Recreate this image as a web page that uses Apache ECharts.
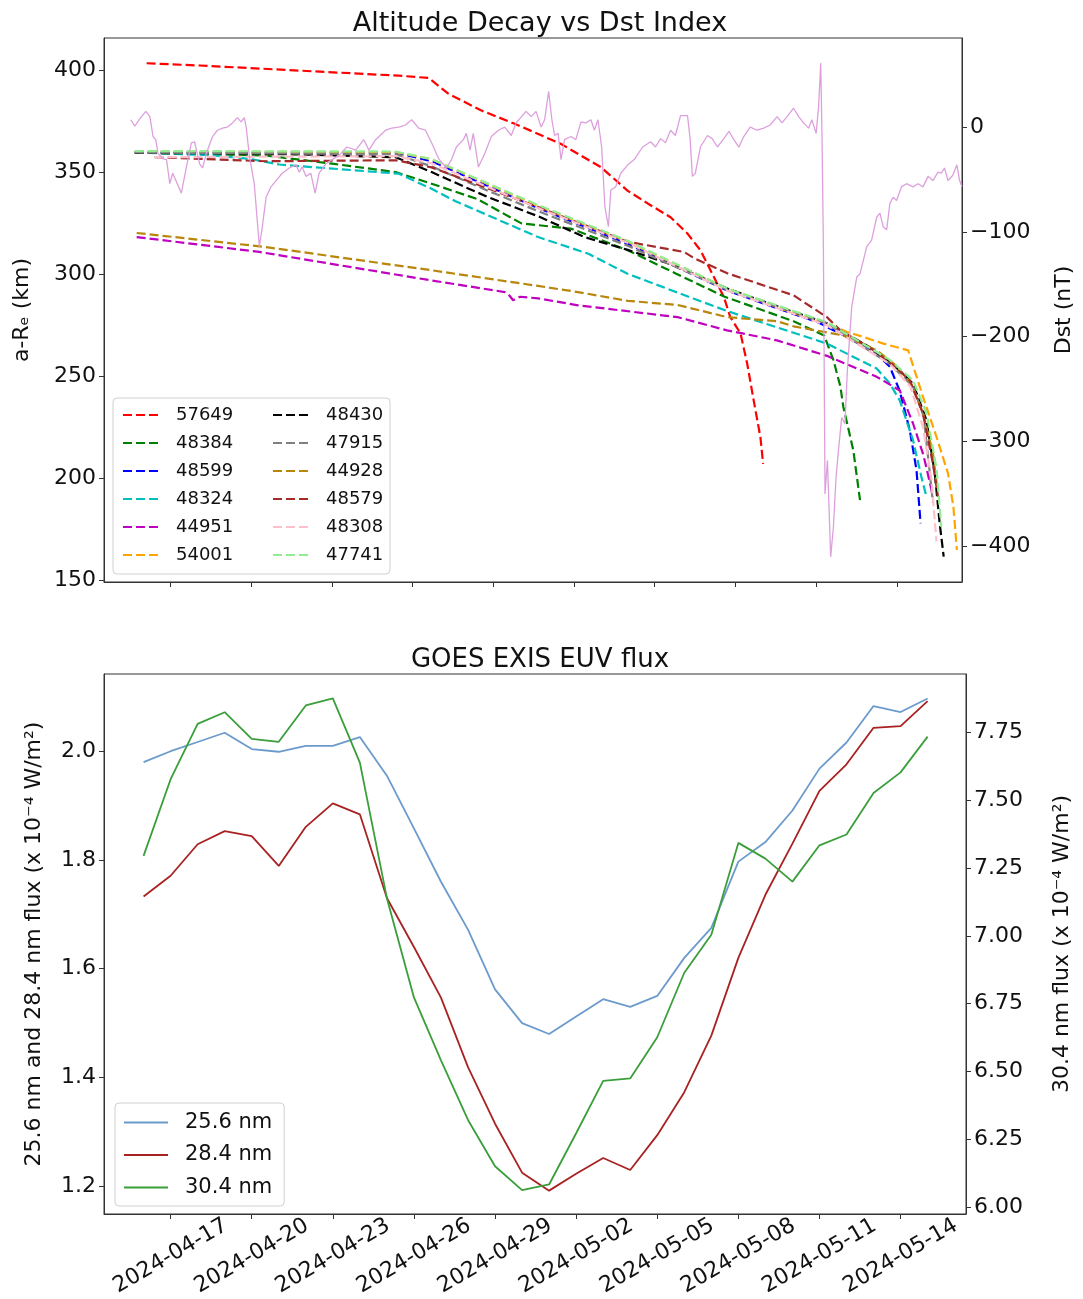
<!DOCTYPE html>
<html><head><meta charset="utf-8">
<script src="https://cdn.jsdelivr.net/npm/echarts@6/dist/echarts.min.js"></script>
<style>html,body{margin:0;padding:0;background:#fff}#c{width:1083px;height:1299px}</style>
</head><body><div id="c"></div>
<script>
// ---------- DATA ----------
const BASE_DATE = '2024-04-17'; // day offsets below are days from this date (UTC)
const xTickLabels = ['2024-04-17','2024-04-20','2024-04-23','2024-04-26','2024-04-29','2024-05-02','2024-05-05','2024-05-08','2024-05-11','2024-05-14'];
const altTicks = [150,200,250,300,350,400];
const dstTicks = [0,-100,-200,-300,-400];
const euvLeftTicks = [1.2,1.4,1.6,1.8,2.0];
const euvRightTicks = [6.00,6.25,6.50,6.75,7.00,7.25,7.50,7.75];

// altitude (a - Re, km) per object: [day offset, km]
const alt57649 = [[-0.88,403.6],[1.09,402.5],[4.79,400],[8.49,397.5],[9.6,396.4],[10.34,388.6],[11.56,380.4],[12.8,373.9],[14.52,364],[16.0,352.6],[17.0,341],[17.74,334.8],[18.59,328],[19.22,320],[19.7,311.8],[20.2,298.7],[20.57,288.9],[20.81,279],[21.19,271],[21.44,256],[21.68,238],[21.93,220],[22.03,207]];
const alt48384 = [[-1.32,359.8],[3.55,358.3],[6.02,354.3],[8.37,350.2],[9.71,344.5],[11.4,337],[13.05,325],[14.9,322.4],[17.0,311.8],[18.8,300.3],[20.6,289],[23.16,277],[24.3,270],[24.64,258],[24.9,245],[25.01,235],[25.38,213.7],[25.63,189.2]];
const alt48599 = [[-1.32,360],[8.37,359.8],[9.71,355.5],[13.67,332.5],[17,315],[20.7,292],[23.16,280.5],[24.03,276.7],[25.13,269.3],[26.25,261.1],[26.74,254.6],[27.1,243],[27.48,223.5],[27.73,203.9],[27.88,177.8]];
const alt48324 = [[-1.32,359.8],[1.5,358.5],[2.94,356.7],[4.05,353.9],[8.49,349.4],[9.71,342],[10.58,336],[13.67,318.3],[15.52,310.2],[16.99,300.3],[19.46,288],[20.69,282],[22.54,274],[24.4,266],[26.25,253.8],[26.74,246.4],[27.11,238],[27.6,218.6],[27.91,200.6],[28.1,190.8]];
const alt44951 = [[-1.25,318.3],[3.31,311],[9.71,297],[12.43,291.3],[12.6,289.6],[12.74,287.3],[13.0,289],[13.67,288.2],[15.15,284.8],[18.85,279],[20.69,272.5],[22.54,267.6],[24.4,260],[26.25,249.7],[27.11,243],[27.6,226.8],[27.97,212],[28.1,205],[28.34,191]];
const alt54001 = [[-1.32,360.2],[8.37,360],[9.71,356.5],[13.67,333.5],[17,316],[20.7,293],[23.16,281],[24.4,276],[25.13,271.8],[25.75,269.3],[26.5,266],[27.42,262.7],[27.97,239.9],[28.47,220.3],[28.9,202.3],[29.1,186],[29.23,164.7]];
const alt48430 = [[-1.32,359.6],[2,359.4],[5,358.8],[8.37,357.5],[9.71,350.2],[10.96,342.8],[11.81,337.9],[13.67,328.5],[15.39,318.3],[17.0,312],[18.6,305],[20.7,293],[23.16,281.5],[24.4,276],[25.9,265],[26.74,257],[27.6,246.4],[28.1,228.4],[28.41,202.3],[28.59,177.8],[28.74,161.4]];
const alt47915 = [[-1.32,359.8],[8.37,359],[9.71,353],[11.81,341],[13.67,331],[17,314],[20.7,292.5],[24.4,276],[26.74,256],[27.6,245],[28.0,230],[28.34,188]];
const alt44928 = [[-1.25,320.3],[3.55,313.4],[9.71,302],[13.67,294.3],[15.15,291.3],[17,287],[18.85,285],[20.69,279],[22.54,277],[23.16,274.5],[25.01,270],[26.25,262.7],[26.9,256],[27.5,247],[27.97,232],[28.34,212],[28.5,195]];
const alt48579 = [[-0.58,357.5],[3.55,355.5],[8.37,356],[9.71,352.5],[13.67,333],[16.99,316],[19.09,311],[19.46,308],[20.7,300.5],[23.16,289.7],[24.4,279],[24.9,272.5],[26.0,264],[27.0,254],[27.48,248],[27.97,231.7],[28.34,207],[28.53,190.8]];
const alt48308 = [[-0.58,357.5],[8.37,358],[9.71,354.5],[13.67,332.5],[17,315.5],[20.7,292],[24.4,275],[26.74,256],[27.5,245],[27.97,225],[28.28,200],[28.47,169]];
const alt47741 = [[-1.32,360.5],[8.37,360.3],[9.71,356.5],[13.67,334],[17,316.5],[20.7,293],[24.4,276.5],[26.74,258],[27.6,248],[28.1,232],[28.47,205],[28.65,176]];

// Dst index (nT)
const dstDay = [-1.47,-1.32,-1.13,-0.91,-0.76,-0.64,-0.54,-0.46,-0.28,-0.14,-0.02,0.09,0.41,0.60,0.78,0.90,1.09,1.20,1.34,1.57,1.75,1.94,2.12,2.31,2.49,2.63,2.75,2.82,2.94,3.12,3.31,3.42,3.56,3.74,3.93,4.16,4.42,4.67,4.79,4.90,5.04,5.22,5.38,5.53,5.78,6.01,6.27,6.56,6.89,7.19,7.38,7.63,8.00,8.23,8.49,8.74,8.97,9.23,9.48,9.71,9.97,10.26,10.45,10.63,10.89,11.00,11.14,11.26,11.45,11.69,11.93,12.19,12.43,12.67,12.85,13.22,13.41,13.59,13.78,13.91,14.06,14.18,14.28,14.41,14.52,14.65,14.89,15.07,15.26,15.44,15.63,15.76,15.89,16.03,16.15,16.28,16.37,16.55,16.74,17.00,17.24,17.55,17.85,18.03,18.22,18.40,18.59,18.77,18.96,19.22,19.32,19.40,19.51,19.70,19.96,20.14,20.33,20.57,20.76,20.94,21.13,21.31,21.55,21.81,22.05,22.29,22.55,22.73,22.92,23.16,23.35,23.53,23.72,23.84,24.00,24.09,24.17,24.22,24.27,24.33,24.42,24.54,24.64,24.74,24.83,24.95,25.07,25.16,25.32,25.51,25.63,25.88,26.06,26.25,26.37,26.49,26.62,26.74,26.86,26.99,27.17,27.36,27.60,27.79,27.97,28.16,28.34,28.53,28.65,28.77,28.90,29.08,29.23,29.33,29.42];
const dstVal = [7,1,8,15,10,-9,-12,-25,-30,-31,-54,-44,-63,-38,-15,-14,-35,-39,-25,-9,-3,-1,0,4,9,5,9,0,-28,-54,-114,-95,-67,-57,-51,-44,-39,-36,-43,-38,-47,-44,-63,-44,-35,-31,-27,-19,-22,-12,-22,-12,-3,-1,0,2,7,-1,-3,-15,-30,-39,-31,-19,-12,-6,-22,-6,-38,-25,-9,-3,0,-8,4,15,10,15,0,7,34,7,-8,-6,-31,-12,-9,-12,5,4,7,-3,7,-19,-76,-95,-60,-57,-44,-36,-31,-19,-14,-19,-11,-15,-3,-8,11,11,-12,-47,-44,-19,-8,-11,-19,-11,-4,-12,-19,-9,0,-3,-1,2,10,4,10,18,10,4,-1,7,-6,19,61,-12,-117,-350,-318,-410,-382,-334,-308,-277,-283,-232,-172,-143,-140,-114,-108,-86,-82,-95,-98,-73,-67,-70,-57,-54,-57,-54,-57,-47,-51,-43,-44,-39,-51,-46,-36,-51,-57];

// GOES EXIS EUV flux (daily)
const euvDates = ['2024-04-16','2024-04-17','2024-04-18','2024-04-19','2024-04-20','2024-04-21','2024-04-22','2024-04-23','2024-04-24','2024-04-25','2024-04-26','2024-04-27','2024-04-28','2024-04-29','2024-04-30','2024-05-01','2024-05-02','2024-05-03','2024-05-04','2024-05-05','2024-05-06','2024-05-07','2024-05-08','2024-05-09','2024-05-10','2024-05-11','2024-05-12','2024-05-13','2024-05-14','2024-05-15'];
const euv256 = [1.980,2.000,2.017,2.034,2.004,1.999,2.010,2.010,2.026,1.955,1.858,1.760,1.672,1.562,1.500,1.480,1.512,1.544,1.530,1.550,1.620,1.675,1.797,1.833,1.891,1.968,2.016,2.083,2.072,2.097];
const euv284 = [1.733,1.771,1.829,1.853,1.844,1.789,1.861,1.904,1.884,1.730,1.640,1.547,1.419,1.315,1.225,1.192,1.223,1.252,1.230,1.294,1.373,1.477,1.620,1.736,1.830,1.927,1.976,2.043,2.046,2.092];
const euv304 = [7.295,7.578,7.782,7.825,7.727,7.716,7.850,7.876,7.639,7.139,6.773,6.541,6.321,6.150,6.062,6.083,6.272,6.465,6.474,6.626,6.864,7.004,7.343,7.285,7.200,7.334,7.374,7.527,7.603,7.735];

// ---------- HELPERS ----------
const DAY = 86400000;
const baseMs = Date.parse(BASE_DATE + 'T00:00:00Z');
const dayOf = s => (Date.parse(s + 'T00:00:00Z') - baseMs) / DAY;
const dateOf = d => new Date(baseMs + Math.round(d * DAY)).toISOString().slice(0, 10);
const xTickDays = xTickLabels.map(dayOf);
const FONT = 'DejaVu Sans';
const AX = '#333';
const TICK_FS = 22;

const altList = [
  ['57649', '#ff0000', alt57649], ['48384', '#008000', alt48384], ['48599', '#0000ff', alt48599],
  ['48324', '#00bfbf', alt48324], ['44951', '#bf00bf', alt44951], ['54001', '#ffa500', alt54001],
  ['48430', '#000000', alt48430], ['47915', '#808080', alt47915], ['44928', '#b8860b', alt44928],
  ['48579', '#a52a2a', alt48579], ['48308', '#ffc0cb', alt48308], ['47741', '#90ee90', alt47741]
];

const series = altList.map(([name, color, data]) => ({
  name, type: 'line', xAxisIndex: 0, yAxisIndex: 0, data, symbol: 'none', showSymbol: false,
  color, lineStyle: { color, width: 2.2, type: [9, 4] }, z: 2
}));
series.push({
  name: 'Dst', type: 'line', xAxisIndex: 0, yAxisIndex: 1,
  data: dstDay.map((d, i) => [d, dstVal[i]]), symbol: 'none', showSymbol: false,
  color: '#dda0dd', lineStyle: { color: '#dda0dd', width: 1.3 }, z: 2
});
const euvX = euvDates.map(dayOf);
series.push(
  { name: '25.6 nm', type: 'line', xAxisIndex: 1, yAxisIndex: 2, data: euvX.map((d, i) => [d, euv256[i]]), symbol: 'none', color: '#6b9bcc', lineStyle: { width: 1.8, color: '#6b9bcc' } },
  { name: '28.4 nm', type: 'line', xAxisIndex: 1, yAxisIndex: 2, data: euvX.map((d, i) => [d, euv284[i]]), symbol: 'none', color: '#a82222', lineStyle: { width: 1.8, color: '#a82222' } },
  { name: '30.4 nm', type: 'line', xAxisIndex: 1, yAxisIndex: 3, data: euvX.map((d, i) => [d, euv304[i]]), symbol: 'none', color: '#3a9e3a', lineStyle: { width: 1.8, color: '#3a9e3a' } }
);

const axLine = { show: true, onZero: false, lineStyle: { color: AX, width: 1 } };
function xAx(grid, showLabels) {
  return {
    type: 'value', gridIndex: grid, min: -2.464, max: 29.42,
    axisLine: axLine, splitLine: { show: false },
    axisTick: { show: true, length: 5, lineStyle: { color: AX }, customValues: xTickDays },
    axisLabel: {
      show: showLabels, customValues: xTickDays, formatter: v => dateOf(v),
      rotate: 30, align: 'center', verticalAlign: 'middle', margin: 42,
      color: '#111', fontFamily: FONT, fontSize: TICK_FS
    }
  };
}
function yAx(grid, pos, min, max, ticks, fmt, name, gap) {
  return {
    type: 'value', gridIndex: grid, position: pos, min, max,
    axisLine: axLine, splitLine: { show: false },
    axisTick: { show: true, length: 5, lineStyle: { color: AX }, customValues: ticks },
    axisLabel: { customValues: ticks, formatter: fmt, color: '#111', fontFamily: FONT, fontSize: TICK_FS, margin: 8 },
    name, nameLocation: 'middle', nameRotate: 90, nameGap: gap,
    nameTextStyle: { color: '#111', fontFamily: FONT, fontSize: 22 }
  };
}

const legendText = { fontFamily: FONT, fontSize: 18, color: '#111', lineHeight: 18, padding: [0, 0, 0, 11] };
const hideSym = { opacity: 0 };
const option = {
  animation: false,
  backgroundColor: '#fff',
  title: [
    { text: 'Altitude Decay vs Dst Index', left: 535, top: 5, textAlign: 'center', textStyle: { fontFamily: FONT, fontSize: 27, fontWeight: 'normal', color: '#111' } },
    { text: 'GOES EXIS EUV flux', left: 535, top: 642, textAlign: 'center', textStyle: { fontFamily: FONT, fontSize: 26, fontWeight: 'normal', color: '#111' } }
  ],
  grid: [
    { left: 104, top: 38, width: 862, height: 544, show: true, borderColor: AX, borderWidth: 1, backgroundColor: 'transparent' },
    { left: 104, top: 674, width: 862, height: 544, show: true, borderColor: AX, borderWidth: 1, backgroundColor: 'transparent' }
  ],
  xAxis: [xAx(0, false), xAx(1, true)],
  yAxis: [
    yAx(0, 'left', 149, 416, altTicks, v => String(v), 'a-Rₑ (km)', 71),
    yAx(0, 'right', -434, 85, dstTicks, v => String(v).replace('-', '\u2212'), 'Dst (nT)', 91),
    yAx(1, 'left', 1.149, 2.142, euvLeftTicks, v => v.toFixed(1), '25.6 nm and 28.4 nm flux (x 10⁻⁴ W/m²)', 59),
    yAx(1, 'right', 5.974, 7.966, euvRightTicks, v => v.toFixed(2), '30.4 nm flux (x 10⁻⁴ W/m²)', 85)
  ],
  legend: [
    { data: ['57649','48384','48599','48324','44951','54001'], orient: 'vertical', left: 122, top: 406, padding: 0,
      itemWidth: 37, itemHeight: 14, itemGap: 10, textStyle: legendText, itemStyle: hideSym },
    { data: ['48430','47915','44928','48579','48308','47741'], orient: 'vertical', left: 272, top: 406, padding: 0,
      itemWidth: 37, itemHeight: 14, itemGap: 10, textStyle: legendText, itemStyle: hideSym },
    { data: ['25.6 nm','28.4 nm','30.4 nm'], orient: 'vertical', left: 115, top: 1103, padding: [9, 12, 8, 8],
      itemWidth: 44, itemHeight: 14, itemGap: 11.5, itemStyle: hideSym,
      backgroundColor: 'rgba(255,255,255,0.85)', borderColor: '#d0d0d0', borderWidth: 1, borderRadius: 4,
      textStyle: { fontFamily: FONT, fontSize: 21, color: '#111', lineHeight: 21, padding: [0, 0, 0, 12] } }
  ],
  graphic: { elements: [
    { type: 'rect', z: 3, shape: { x: 113, y: 398, width: 277, height: 176, r: 4 },
      style: { fill: 'rgba(255,255,255,0.85)', stroke: '#d0d0d0', lineWidth: 1 } }
  ] },
  series
};
const chart = echarts.init(document.getElementById('c'), null, { renderer: 'canvas' });
chart.setOption(option);
</script></body></html>
